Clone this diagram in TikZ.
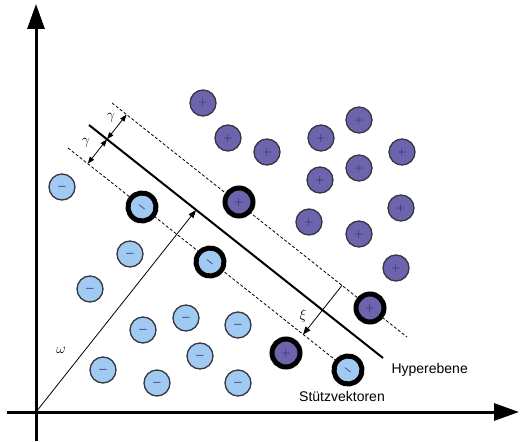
\documentclass[tikz,border=0pt]{standalone}
\usepackage{fontspec}
\setmainfont{Liberation Sans}
\usepackage{xcolor}
\usetikzlibrary{arrows.meta}

\definecolor{posfill}{RGB}{108,100,172}
\definecolor{negfill}{RGB}{160,202,242}
\definecolor{rimgray}{RGB}{55,55,65}
\definecolor{signblue}{RGB}{25,35,100}

\begin{document}
\begin{tikzpicture}[x=1pt, y=-1pt,
      axis/.style={line width=3pt, -{Triangle[length=25pt,width=17pt]}},
      poscirc/.style={circle, draw=rimgray, line width=1.3pt, fill=posfill, minimum size=26pt, inner sep=0pt,
                      text=signblue, font=\fontsize{13}{13}\selectfont},
      negcirc/.style={circle, draw=rimgray, line width=1.3pt, fill=negfill, minimum size=26pt, inner sep=0pt,
                      text=signblue, font=\fontsize{11}{11}\selectfont\boldmath},
      stuetz/.style={draw=black, line width=5pt, minimum size=28pt},
      margin/.style={densely dashed, line width=0.8pt},
      smallarrow/.style={line width=0.8pt, -{Triangle[length=8pt,width=6pt]}},
      lbl/.style={font=\fontsize{14}{16}\selectfont}]
    \useasboundingbox (0,0) rectangle (521,441);

    % axes
    \coordinate (origin) at (36,412);
    \coordinate (ybot) at (36,441);
    \coordinate (ytop) at (36,4);
    \coordinate (xleft) at (7,412);
    \coordinate (xright) at (519,412);
    \draw[axis] (ybot) -- (ytop);
    \draw[axis] (xleft) -- (xright);

    % hyperplane and margins
    \coordinate (hypA) at (89,125);
    \coordinate (hypB) at (383,358);
    \coordinate (upA) at (112,103);
    \coordinate (upB) at (407,337);
    \coordinate (lowA) at (68,148);
    \coordinate (lowB) at (348,370);
    \draw[line width=2pt] (hypA) -- (hypB);
    \draw[margin] (upA) -- (upB);
    \draw[margin] (lowA) -- (lowB);

    % normal vector
    \coordinate (wend) at (196,210);
    \draw[smallarrow] (origin) -- (wend);
    \node[font=\fontsize{14}{14}\selectfont] (omega) at (61,350) {$\omega$};

    % margin width
    \coordinate (gmid) at (107,139.3);
    \coordinate (gup) at (126.6,114.6);
    \coordinate (glow) at (87.7,163.7);
    \draw[line width=0.8pt, {Triangle[length=7pt,width=5pt]}-{Triangle[length=7pt,width=5pt]}] (gmid) -- (gup);
    \draw[line width=0.8pt, {Triangle[length=7pt,width=5pt]}-{Triangle[length=7pt,width=5pt]}] (gmid) -- (glow);
    \node[font=\fontsize{14}{14}\selectfont] (gamma1) at (111,118) {$\gamma$};
    \node[font=\fontsize{14}{14}\selectfont] (gamma2) at (86,143) {$\gamma$};

    % slack
    \coordinate (xitop) at (342,285.4);
    \coordinate (xibot) at (303,334.6);
    \draw[smallarrow] (xitop) -- (xibot);
    \node[font=\fontsize{14}{14}\selectfont] (xi) at (303,316) {$\xi$};

    % positive class
    \foreach \px/\py [count=\i] in {203/103, 228/138, 267/152, 321/138, 359/120, 402/152,
                                   320/180, 359/168, 309/222, 359/234, 401/208, 396/268}
      \node[poscirc] (p\i) at (\px,\py) {$+$};
    \node[poscirc, stuetz] (ps1) at (239,202) {$+$};
    \node[poscirc, stuetz] (ps2) at (370,308) {$+$};
    \node[poscirc, stuetz] (ps3) at (286,353) {$+$};

    % negative class
    \foreach \nx/\ny [count=\i] in {62/187, 130/254, 90/289, 186/318, 143/330, 238/325,
                                   200/356, 103/370, 157/383, 238/383}
      \node[negcirc] (n\i) at (\nx,\ny) {$-$};
    \node[negcirc, stuetz, rotate=-38] (ns1) at (142,207) {$-$};
    \node[negcirc, stuetz, rotate=-38] (ns2) at (210,262) {$-$};
    \node[negcirc, stuetz, rotate=-38] (ns3) at (348,370) {$-$};

    % labels
    \node[lbl, anchor=west] (hyp) at (388,370) {Hyperebene};
    \node[lbl] (sv) at (342,396) {Stützvektoren};
  \end{tikzpicture}
\end{document}
